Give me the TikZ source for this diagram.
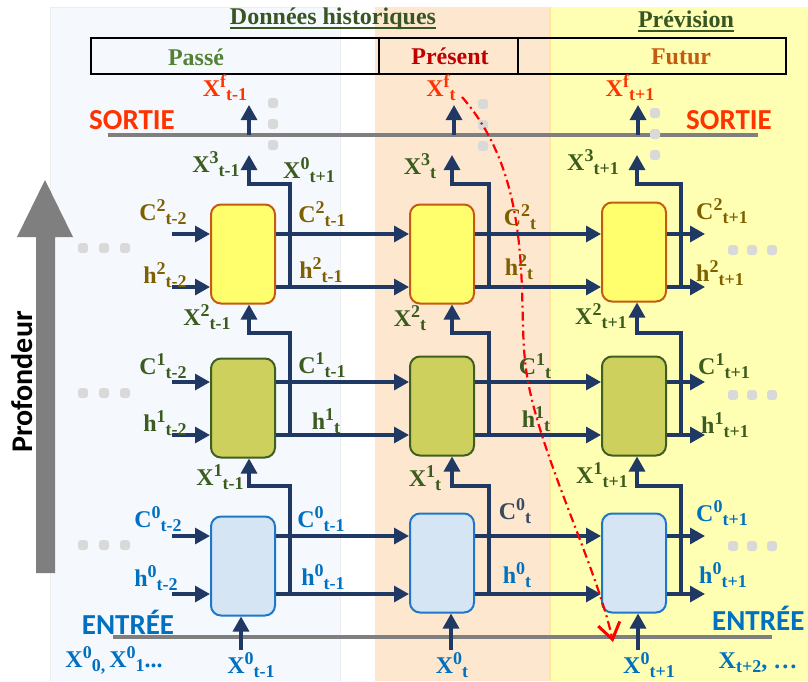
\documentclass[tikz,border=0pt]{standalone}
\usepackage{fontspec}
\setmainfont{Liberation Serif}
\newfontfamily\carl{Carlito}
\usetikzlibrary{arrows.meta,calc}

\definecolor{navy}{HTML}{1F3864}
\definecolor{paleblue}{HTML}{F5F9FD}
\definecolor{peach}{HTML}{FDE8CF}
\definecolor{lyellow}{HTML}{FFFFB4}
\definecolor{ybord}{HTML}{FFE89A}
\definecolor{celly}{HTML}{FFFF6E}
\definecolor{cellyb}{HTML}{C55A11}
\definecolor{cello}{HTML}{CDD05C}
\definecolor{cellob}{HTML}{3F5F22}
\definecolor{cellb}{HTML}{D5E5F4}
\definecolor{cellbb}{HTML}{1F77C9}
\definecolor{lbrown}{HTML}{7F6000}
\definecolor{lgreen}{HTML}{3B5C1E}
\definecolor{lblue}{HTML}{0070C0}
\definecolor{lslate}{HTML}{3A4A60}
\definecolor{lred}{HTML}{FF3300}
\definecolor{hgreen}{HTML}{375623}
\definecolor{pgreen}{HTML}{548235}
\definecolor{pred}{HTML}{C00000}
\definecolor{porange}{HTML}{C55A11}
\definecolor{gline}{HTML}{7F7F7F}
\definecolor{dotc}{HTML}{D9D9D9}

\newcommand\XLab[3]{#1{\fontsize{18}{18}\selectfont\raisebox{9pt}{#2}\raisebox{-4pt}{#3}}}

\begin{document}
\begin{tikzpicture}[x=1pt,y=-1pt,
  arr/.style={draw=navy, line width=3.2pt, -{Triangle[length=15pt,width=16pt]}},
  cell/.style={rounded corners=10pt, minimum width=64pt, minimum height=99pt, line width=2pt, inner sep=0pt},
  celltop/.style={cell, fill=celly, draw=cellyb},
  cellmid/.style={cell, fill=cello, draw=cellob},
  cellbot/.style={cell, fill=cellb, draw=cellbb},
  lab/.style={font=\bfseries\fontsize{24}{26}\selectfont, inner sep=0pt},
  sans/.style={font=\carl\bfseries\fontsize{29}{29}\selectfont, inner sep=0pt},
  tbox/.style={draw=black, line width=2pt, minimum height=36pt, inner sep=0pt, anchor=north west},
  gl/.style={draw=gline, line width=4.5pt},
  ul/.style={draw=hgreen, line width=1.8pt},
  gdot/.style={fill=dotc, rounded corners=3pt}
]
\useasboundingbox (0,0) rectangle (808,681);
\fill[white] (0,0) rectangle (808,681);

% background panels
\fill[paleblue] (50,7) rectangle (340,681);
\draw[black!7, line width=0.8pt] (50,681) -- (50,7) -- (340,7) -- (340,681);
\fill[peach] (375,7) rectangle (550,681);
\fill[lyellow] (550,7) rectangle (808,681);
\draw[ybord, line width=1.5pt] (550,7) -- (550,681);

% headings
\node[lab, text=hgreen, anchor=base] (hist) at (333,24) {Données historiques};
\draw[ul] ($(hist.base west)+(0,4)$) -- ($(hist.base east)+(0,4)$);
\node[lab, text=hgreen, anchor=base] (prev) at (686,27) {Prévision};
\draw[ul] ($(prev.base west)+(0,4)$) -- ($(prev.base east)+(0,4)$);

% period boxes
\node[tbox, minimum width=288pt] (passe) at (90,37) {};
\node[tbox, minimum width=139pt] (present) at (378,37) {};
\node[tbox, minimum width=268pt] (futur) at (517,37) {};
\node[lab, text=pgreen] (tpasse) at (196,57) {Passé};
\node[lab, text=pred] (tpresent) at (450,56) {Présent};
\node[lab, text=porange] (tfutur) at (681,57) {Futur};

% SORTIE / ENTREE lines
\coordinate (sL) at (108,135); \coordinate (sR) at (758,135);
\coordinate (eL) at (113,637); \coordinate (eR) at (772,637);
\draw[gl] (sL) -- (sR);
\draw[gl] (eL) -- (eR);
\node[sans, text=lred] (sortieL) at (132,120) {SORTIE};
\node[sans, text=lred] (sortieR) at (729,120) {SORTIE};
\node[sans, text=lblue] (entreeL) at (128,622) {ENTRÉE};
\node[sans, text=lblue, anchor=west] (entreeR) at (712,618) {ENTRÉE};

% depth arrow
\fill[gline] (36,573) -- (36,237) -- (17,237) -- (45,180) -- (73,237) -- (55,237) -- (55,573) -- cycle;
\node[font=\carl\bfseries\fontsize{30}{30}\selectfont, inner sep=0pt, rotate=90] (prof) at (22,382) {Profondeur};

% cells
\node[celltop] (c12) at (243,254) {};
\node[celltop] (c22) at (442,254) {};
\node[celltop] (c32) at (634,252) {};
\node[cellmid] (c11) at (243,408) {};
\node[cellmid] (c21) at (442,406) {};
\node[cellmid] (c31) at (634,406) {};
\node[cellbot] (c10) at (243,566) {};
\node[cellbot] (c20) at (442,563) {};
\node[cellbot] (c30) at (634,563) {};

% levels
\coordinate (yC2) at (0,234); \coordinate (yH2) at (0,287);
\coordinate (yC1) at (0,382); \coordinate (yH1) at (0,435);
\coordinate (yC0) at (0,536); \coordinate (yH0) at (0,594);

% horizontal arrows
\foreach \r in {0,1,2}{
  \draw[arr] ($(c1\r.west|-yC\r)+(-38,0)$) -- (c1\r.west|-yC\r);
  \draw[arr] ($(c1\r.west|-yH\r)+(-38,0)$) -- (c1\r.west|-yH\r);
  \draw[arr] (c1\r.east|-yC\r) -- (c2\r.west|-yC\r);
  \draw[arr] (c1\r.east|-yH\r) -- (c2\r.west|-yH\r);
  \draw[arr] (c2\r.east|-yC\r) -- (c3\r.west|-yC\r);
  \draw[arr] (c2\r.east|-yH\r) -- (c3\r.west|-yH\r);
  \draw[arr] (c3\r.east|-yC\r) -- ++(38,0);
  \draw[arr] (c3\r.east|-yH\r) -- ++(38,0);
}

% vertical connectors
\foreach \c/\ux/\bx/\ox in {1/249/241/249, 2/452/451/454, 3/637/638/638}{
  \draw[arr] ($(c\c0.east|-yH0)+(14,0)$) |- (\ux,486) -- (c\c1.south -| \ux,0);
  \draw[arr] ($(c\c1.east|-yH1)+(14,0)$) |- (\ux,333) -- (c\c2.south -| \ux,0);
  \draw[arr] ($(c\c2.east|-yH2)+(14,0)$) |- (\ux,184) -- (\ux,155);
  \draw[arr] (\bx,650) -- (c\c0.south -| \bx,0);
  \draw[arr] (\ox,135) -- (\ox,105);
}

% dots
\foreach \y in {248,393,545}{\foreach \x in {83,104,125}{\fill[gdot] (\x-5,\y-5) rectangle ++(10,10);}}
\foreach \y in {250,395,546}{\foreach \x in {733,752,772}{\fill[gdot] (\x-5,\y-5) rectangle ++(10,10);}}
\foreach \x/\ya in {273/103, 483/104, 655/113}{\foreach \k in {0,1,2}{\fill[gdot] (\x-5,\ya+21*\k-5) rectangle ++(10,10);}}

% labels row 2
\node[lab, text=lbrown] (lc2a) at (163,212) {\XLab{C}{2}{t-2}};
\node[lab, text=lbrown] (lh2a) at (165,275) {\XLab{h}{2}{t-2}};
\node[lab, text=lbrown] (lc2b) at (322,214) {\XLab{C}{2}{t-1}};
\node[lab, text=lbrown] (lh2b) at (321,270) {\XLab{h}{2}{t-1}};
\node[lab, text=lbrown] (lc2c) at (520,217) {\XLab{C}{2}{t}};
\node[lab, text=lbrown] (lh2c) at (519,267) {\XLab{h}{2}{t}};
\node[lab, text=lbrown] (lc2d) at (722,211) {\XLab{C}{2}{t+1}};
\node[lab, text=lbrown] (lh2d) at (720,273) {\XLab{h}{2}{t+1}};
% labels row 1
\node[lab, text=lgreen] (lc1a) at (163,366) {\XLab{C}{1}{t-2}};
\node[lab, text=lgreen] (lh1a) at (165,423) {\XLab{h}{1}{t-2}};
\node[lab, text=lgreen] (lc1b) at (322,365) {\XLab{C}{1}{t-1}};
\node[lab, text=lgreen] (lh1b) at (326,421) {\XLab{h}{1}{t}};
\node[lab, text=lgreen] (lc1c) at (535,366) {\XLab{C}{1}{t}};
\node[lab, text=lgreen] (lh1c) at (536,419) {\XLab{h}{1}{t}};
\node[lab, text=lgreen] (lc1d) at (724,366) {\XLab{C}{1}{t+1}};
\node[lab, text=lgreen] (lh1d) at (725,425) {\XLab{h}{1}{t+1}};
% labels row 0
\node[lab, text=lblue] (lc0a) at (158,519) {\XLab{C}{0}{t-2}};
\node[lab, text=lblue] (lh0a) at (156,578) {\XLab{h}{0}{t-2}};
\node[lab, text=lblue] (lc0b) at (321,519) {\XLab{C}{0}{t-1}};
\node[lab, text=lblue] (lh0b) at (323,577) {\XLab{h}{0}{t-1}};
\node[lab, text=lslate] (lc0c) at (515,511) {\XLab{C}{0}{t}};
\node[lab, text=lblue] (lh0c) at (517,575) {\XLab{h}{0}{t}};
\node[lab, text=lblue] (lc0d) at (722,513) {\XLab{C}{0}{t+1}};
\node[lab, text=lblue] (lh0d) at (723,575) {\XLab{h}{0}{t+1}};
% X labels
\node[lab, text=lgreen] (x3a) at (216,164) {\XLab{X}{3}{t-1}};
\node[lab, text=lgreen] (x0n) at (309,170) {\XLab{X}{0}{t+1}};
\node[lab, text=lgreen] (x3b) at (420,166) {\XLab{X}{3}{t}};
\node[lab, text=lgreen] (x3c) at (593,162) {\XLab{X}{3}{t+1}};
\node[lab, text=lgreen] (x2a) at (207,317) {\XLab{X}{2}{t-1}};
\node[lab, text=lgreen] (x2b) at (410,318) {\XLab{X}{2}{t}};
\node[lab, text=lgreen] (x2c) at (601,316) {\XLab{X}{2}{t+1}};
\node[lab, text=lgreen] (x1a) at (220,477) {\XLab{X}{1}{t-1}};
\node[lab, text=lgreen] (x1b) at (425,478) {\XLab{X}{1}{t}};
\node[lab, text=lgreen] (x1c) at (602,475) {\XLab{X}{1}{t+1}};
\node[lab, text=lred] (xfa) at (225,88) {\XLab{X}{f}{t-1}};
\node[lab, text=lred] (xfb) at (441,88) {\XLab{X}{f}{t}};
\node[lab, text=lred] (xfc) at (630,88) {\XLab{X}{f}{t+1}};
\node[lab, text=lblue] (x00) at (114,660) {\XLab{X}{0}{0,}\,\XLab{X}{0}{1}...};
\node[lab, text=lblue] (x0a) at (251,665) {\XLab{X}{0}{t-1}};
\node[lab, text=lblue] (x0b) at (452,665) {\XLab{X}{0}{t}};
\node[lab, text=lblue] (x0c) at (649,665) {\XLab{X}{0}{t+1}};
\node[lab, text=lblue] (xnext) at (758,663) {\XLab{X}{}{t+2}, …};

% red dash-dot curve
\coordinate (rs) at (462,97);
\coordinate (rm) at (525,360);
\coordinate (re) at (613,642);
\draw[red, line width=2.2pt, dash pattern=on 9pt off 4pt on 2pt off 4pt,
  -{Straight Barb[length=16pt,width=22pt,line width=3pt]}]
  (rs) .. controls (535,180) and (518,300) .. (rm)
       .. controls (532,440) and (595,560) .. (re);
\end{tikzpicture}
\end{document}
